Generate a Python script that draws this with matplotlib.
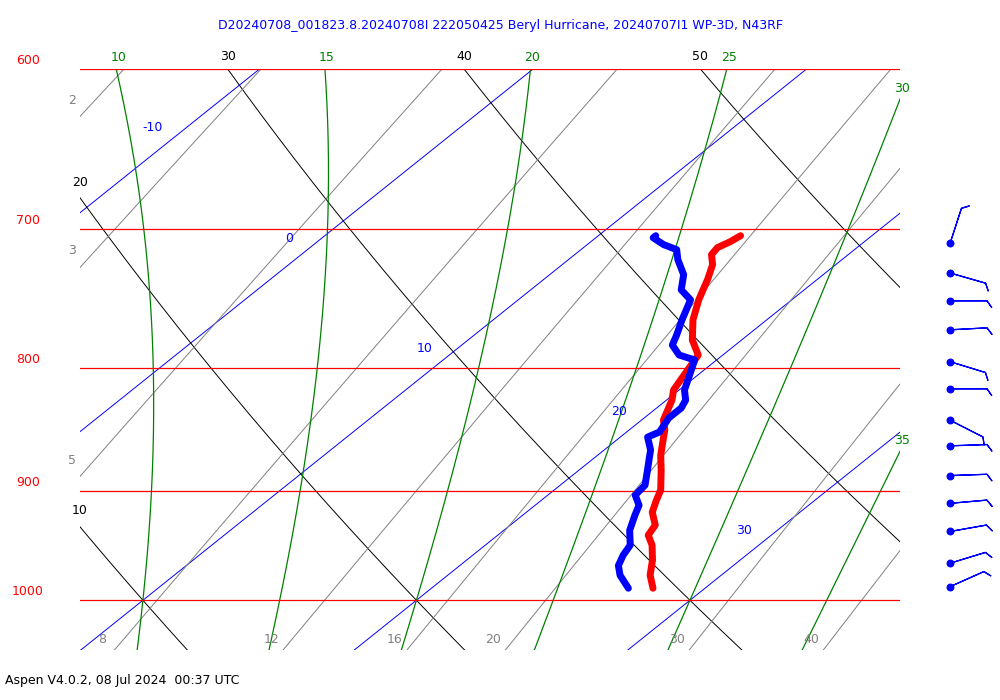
import numpy as np
import matplotlib.pyplot as plt

# sounding values (hPa, degC)
temp_p = [988.5, 976.2, 962.2, 948.4, 939.3, 930.3, 918.8, 908.2, 899.5, 882.3,
          869.7, 857.2, 848.9, 840.9, 832.9, 824.9, 817.0, 809.2, 801.4, 789.9,
          778.6, 763.6, 749.1, 741.9, 734.7, 724.2, 717.2, 712.4, 708.3, 704.3]
temp_c = [28.1, 27.4, 26.8, 26.1, 25.5, 25.3, 24.6, 24.2, 23.9, 23.0,
          22.3, 21.7, 21.3, 20.8, 20.5, 20.2, 19.8, 19.6, 19.4, 19.1,
          18.2, 17.3, 16.6, 16.3, 16.0, 15.5, 15.0, 14.9, 15.1, 15.2]
dew_p = [988.5, 976.2, 967.2, 957.6, 948.4, 934.9, 921.4, 912.7, 903.9, 895.2,
         882.3, 873.9, 865.5, 854.8, 850.6, 839.2, 831.2, 824.9, 817.0, 805.3,
         793.7, 789.9, 782.4, 774.9, 763.6, 749.1, 741.9, 731.2, 720.7, 713.8,
         710.4, 705.7, 704.3]
dew_c = [27.2, 26.3, 25.8, 25.5, 25.3, 24.6, 24.1, 23.8, 23.2, 23.1,
         22.5, 22.1, 21.7, 21.0, 21.2, 20.9, 20.9, 20.7, 20.2, 19.7,
         19.2, 18.4, 17.7, 17.4, 16.9, 16.3, 15.5, 14.9, 14.0, 13.5,
         12.8, 12.1, 12.1]

# winds
wind_p = [709.6, 730, 749.8, 771, 795, 816, 841, 862, 887, 911, 936, 965, 987]
wind_dir = [18, 106, 90, 87, 107, 90, 117, 88, 88, 85, 80, 73, 66]
wind_kt = [10] * 13

# background lines
pressures = [600, 700, 800, 900, 1000]
isotherms = [-20, -10, 0, 10, 20, 30, 40]
iso_label_p = {-10: 635, 0: 706, 10: 785, 20: 834, 30: 935}
thetas = [0, 10, 20, 30, 40, 50, 60]
theta_w = [10, 15, 20, 25, 30, 35]
mix_ratios = [2, 3, 5, 8, 12, 16, 20, 30, 40]

title = "D20240708_001823.8.20240708I 222050425 Beryl Hurricane, 20240707I1 WP-3D, N43RF"
footer = "Aspen V4.0.2, 08 Jul 2024  00:37 UTC"

SKEW = 47.5
XMIN, XMAX = 7.70, 37.68
PBOT, PTOP = 1049, 600


def skx(t, p):
    return np.asarray(t) + SKEW * np.log(1000.0 / np.asarray(p))


def moist_adiabat(tw, p):
    Rd, cp, Lv, eps = 287.04, 1005.7, 2.501e6, 0.622
    def grad(T, pp):
        tc = T - 273.15
        es = 6.112 * np.exp(17.67 * tc / (tc + 243.5))
        rs = eps * es / (pp - es)
        return (Rd * T + Lv * rs) / (pp * (cp + Lv**2 * rs * eps / (Rd * T**2)))
    out = {}
    for direction, end in ((-0.5, p.min()), (0.5, p.max())):
        T, pp = tw + 273.15, 1000.0
        pts = [(pp, T)]
        while (pp > end) if direction < 0 else (pp < end):
            T += grad(T, pp) * direction
            pp += direction
            pts.append((pp, T))
        for a, b in pts:
            out[round(a, 1)] = b
    ps = np.array(sorted(out))
    return ps, np.array([out[k] for k in ps]) - 273.15


fig = plt.figure(figsize=(10, 7), dpi=100)
ax = fig.add_axes([0.08, 0.0714, 0.82, 0.83])
ax.set_yscale('log')
ax.set_xlim(XMIN, XMAX)
ax.set_ylim(PBOT, PTOP)
ax.axis('off')

pp = np.linspace(PTOP, PBOT, 300)


def edge_label(xs, ps, text, color, top_off=(0, 6), left_off=(0, 10)):
    inside = (xs >= XMIN) & (xs <= XMAX)
    if not inside.any():
        return
    i = np.argmax(inside)  # first inside point from the top
    if ps[i] <= PTOP + 0.5:
        ax.annotate(text, (xs[i], ps[i]), xytext=top_off, textcoords='offset pixels',
                    ha='center', va='bottom', color=color, fontsize=9)
    else:
        ax.annotate(text, (XMIN, ps[i]), xytext=left_off, textcoords='offset pixels',
                    ha='center', va='bottom', color=color, fontsize=9)


# isotherms
for t in isotherms:
    ax.plot(skx(np.full_like(pp, t), pp), pp, color='blue', lw=0.7)
    if t in iso_label_p:
        ax.annotate(str(t), (skx(t, iso_label_p[t]), iso_label_p[t]), xytext=(-33, 0),
                    textcoords='offset pixels', ha='center', va='center',
                    color='blue', fontsize=9)

# dry adiabats
for th in thetas:
    tc = (th + 273.15) * (pp / 1000.0) ** 0.2857 - 273.15
    xs = skx(tc, pp)
    ax.plot(xs, pp, color='black', lw=0.7)
    edge_label(xs, pp, str(th), 'black', left_off=(0, 10))

# mixing ratio lines
for w in mix_ratios:
    e = w * pp / (622.0 + w)
    le = np.log(e / 6.112)
    td = 243.5 * le / (17.67 - le)
    xs = skx(td, pp)
    ax.plot(xs, pp, color='gray', lw=0.7)
    inside = (xs >= XMIN) & (xs <= XMAX)
    if xs[-1] >= XMIN:
        ax.annotate(str(w), (xs[-1], pp[-1]), xytext=(-12, 4), textcoords='offset pixels',
                    ha='center', va='bottom', color='gray', fontsize=9)
    elif inside.any():
        j = len(xs) - 1 - np.argmax(inside[::-1])
        ax.annotate(str(w), (XMIN, pp[j]), xytext=(-8, 8), textcoords='offset pixels',
                    ha='center', va='bottom', color='gray', fontsize=9)

# moist adiabats
for tw in theta_w:
    ps, tc = moist_adiabat(tw, pp)
    xs = skx(tc, ps)
    ax.plot(xs, ps, color='green', lw=0.9)
    inside = (xs >= XMIN) & (xs <= XMAX)
    if inside.any():
        i = np.argmax(inside)
        ax.annotate(str(tw), (xs[i], ps[i]), xytext=(2, 5), textcoords='offset pixels',
                    ha='center', va='bottom', color='green', fontsize=9)

# isobars
for p in pressures:
    ax.plot([XMIN, XMAX], [p, p], color='red', lw=0.9)
    ax.annotate(str(p), (XMIN, p), xytext=(-52, 2), textcoords='offset pixels',
                ha='center', va='bottom', color='red', fontsize=9)

# profiles
ax.plot(skx(temp_c, temp_p), temp_p, color='red', lw=5, solid_capstyle='round')
ax.plot(skx(dew_c, dew_p), dew_p, color='blue', lw=5, solid_capstyle='round')

# wind barbs
bax = fig.add_axes([0.93, 0.0714, 0.07, 0.83])
bax.set_yscale('log')
bax.set_ylim(PBOT, PTOP)
bax.set_xlim(-0.286, 0.714)
bax.axis('off')
rad = np.deg2rad(wind_dir)
spd = np.array(wind_kt)
u = -spd * np.sin(rad)
v = -spd * np.cos(rad)
bx = np.zeros(len(wind_p))
bax.barbs(bx, wind_p, u, v, length=7.3, color='blue', linewidth=0.9,
          sizes=dict(height=0.18))
bax.scatter(bx, wind_p, s=22, color='blue', zorder=3)

fig.text(0.5, 0.963, title, ha='center', va='center', color='blue', fontsize=9)
fig.text(0.005, 0.028, footer, ha='left', va='center', color='black', fontsize=9)

fig.savefig('out.png', dpi=100)
